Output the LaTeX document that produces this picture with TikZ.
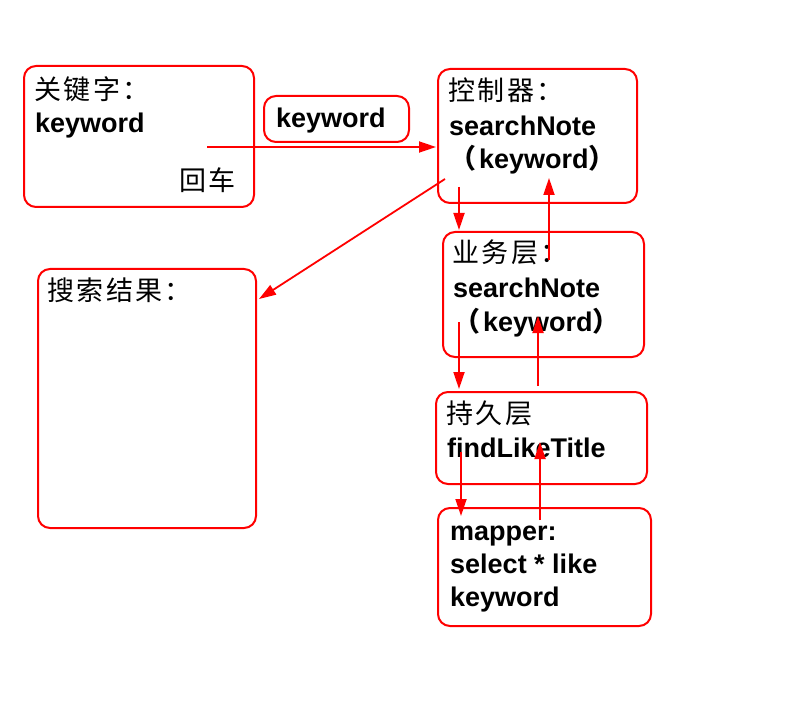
\documentclass[tikz,border=0pt]{standalone}
\usepackage{fontspec}
\setmainfont{Liberation Sans}
\newfontfamily\cjk[LetterSpace=9]{Noto Sans CJK SC}
\newfontfamily\cjkp{Noto Sans CJK SC}
\usetikzlibrary{arrows.meta}
\begin{document}
\begin{tikzpicture}[x=1pt,y=-1pt,
  box/.style={draw=red, line width=2pt, rounded corners=12pt, anchor=north west, inner sep=0pt},
  lat/.style={anchor=base west, inner sep=0pt, font=\fontsize{27}{33}\selectfont\bfseries},
  zh/.style={anchor=base west, inner sep=0pt, font=\fontsize{27}{33}\selectfont\cjk},
  arr/.style={draw=red, line width=1.8pt, -{Triangle[length=17pt,width=11pt]}}]
\useasboundingbox (0,0) rectangle (800,703);
% boxes
\node[box, minimum width=230pt, minimum height=141pt] (A) at (23,65) {};
\node[box, minimum width=145pt, minimum height=46pt] (B) at (263,95) {};
\node[box, minimum width=199pt, minimum height=134pt] (C) at (437,68) {};
\node[box, minimum width=218pt, minimum height=259pt] (D) at (37,268) {};
\node[box, minimum width=201pt, minimum height=125pt] (E) at (442,231) {};
\node[box, minimum width=211pt, minimum height=92pt] (F) at (435,391) {};
\node[box, minimum width=213pt, minimum height=118pt] (G) at (437,507) {};
% texts
\node[zh] (a1) at (34,100) {关键字：};
\node[lat] (a2) at (35,133) {keyword};
\node[zh] (a3) at (179,191) {回车};
\node[lat] (b1) at (276,128) {keyword};
\node[zh] (c1) at (448,101) {控制器：};
\node[lat] (c2) at (449,136) {searchNote};
\node[lat] (c3) at (449,169) {{\cjkp （}\kern3pt keyword{\cjkp ）}};
\node[zh] (d1) at (47,300) {搜索结果：};
\node[zh] (e1) at (452,263) {业务层：};
\node[lat] (e2) at (453,297) {searchNote};
\node[lat] (e3) at (453,331) {{\cjkp （}\kern3pt keyword{\cjkp ）}};
\node[zh] (f1) at (446,423) {持久层};
\node[lat] (f2) at (447,457) {findLikeTitle};
\node[lat] (g1) at (450,540) {mapper:};
\node[lat] (g2) at (450,573) {select * like};
\node[lat] (g3) at (450,606) {keyword};
% connector endpoints
\coordinate (p1s) at (207,147); \coordinate (p1e) at (436,147);
\coordinate (p2s) at (445,179); \coordinate (p2e) at (259,299);
\coordinate (p3s) at (459,187); \coordinate (p3e) at (459,230);
\coordinate (p4s) at (549,260); \coordinate (p4e) at (549,178);
\coordinate (p5s) at (459,322); \coordinate (p5e) at (459,389);
\coordinate (p6s) at (538,386); \coordinate (p6e) at (538,316);
\coordinate (p7s) at (461,452); \coordinate (p7e) at (461,516);
\coordinate (p8s) at (540,520); \coordinate (p8e) at (540,442);
\draw[arr] (p1s) -- (p1e);
\draw[arr] (p2s) -- (p2e);
\draw[arr] (p3s) -- (p3e);
\draw[arr] (p4s) -- (p4e);
\draw[arr] (p5s) -- (p5e);
\draw[arr] (p6s) -- (p6e);
\draw[arr] (p7s) -- (p7e);
\draw[arr] (p8s) -- (p8e);
\end{tikzpicture}
\end{document}
